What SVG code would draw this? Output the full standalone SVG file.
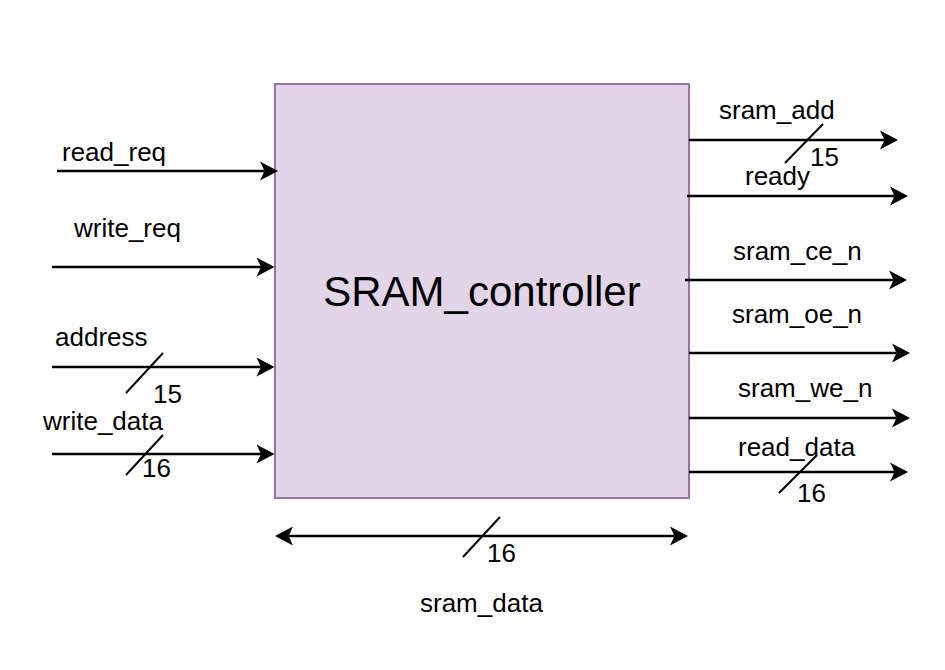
<svg xmlns="http://www.w3.org/2000/svg" width="945" height="670" viewBox="0 0 945 670">
<style>
.lbl{font-family:"Liberation Sans",Arial,sans-serif;font-size:26px;fill:#000}
.big{font-family:"Liberation Sans",Arial,sans-serif;font-size:42px;fill:#000}
.wire{stroke:#000;stroke-width:2.5;fill:none;marker-end:url(#ah)}
.bus{stroke:#000;stroke-width:2;fill:none}
</style>
<defs>
<marker id="ah" markerUnits="userSpaceOnUse" markerWidth="20" markerHeight="22" viewBox="-5 -11 20 22" refX="0" refY="0" orient="auto-start-reverse">
<path d="M13.5,0 L-4.5,-9.5 L0,0 L-4.5,9.5 Z" fill="#000"/>
</marker>
</defs>
<rect width="945" height="670" fill="#fff"/>
<g id="SRAM_controller">
<rect x="275" y="84" width="414" height="414" fill="#e1d5e7" stroke="#9673a6" stroke-width="2"/>
<text class="big" x="482" y="306" text-anchor="middle">SRAM_controller</text>
</g>
<g id="connectors">
<g id="read_req">
<line class="wire" x1="57" y1="171" x2="264.5" y2="171"/>
<text class="lbl" x="62" y="161">read_req</text>
</g>
<g id="write_req">
<line class="wire" x1="52" y1="267" x2="261" y2="267"/>
<text class="lbl" x="74" y="237">write_req</text>
</g>
<g id="address">
<line class="wire" x1="52" y1="367" x2="261" y2="367"/>
<line class="bus" x1="126" y1="393" x2="163" y2="353"/>
<text class="lbl" x="55" y="346">address</text>
<text class="lbl" x="153" y="403">15</text>
</g>
<g id="write_data">
<line class="wire" x1="52" y1="454" x2="261" y2="454"/>
<line class="bus" x1="126" y1="475" x2="163" y2="435"/>
<text class="lbl" x="43" y="430">write_data</text>
<text class="lbl" x="142" y="477">16</text>
</g>
<g id="sram_add">
<line class="wire" x1="689" y1="140" x2="884.5" y2="140"/>
<line class="bus" x1="785" y1="163" x2="823" y2="124"/>
<text class="lbl" x="719" y="119">sram_add</text>
<text class="lbl" x="810" y="166">15</text>
</g>
<g id="ready">
<line class="wire" x1="687" y1="196" x2="894.5" y2="196"/>
<text class="lbl" x="745" y="185">ready</text>
</g>
<g id="sram_ce_n">
<line class="wire" x1="685" y1="280" x2="893.5" y2="280"/>
<text class="lbl" x="733" y="260">sram_ce_n</text>
</g>
<g id="sram_oe_n">
<line class="wire" x1="689" y1="353" x2="896.5" y2="353"/>
<text class="lbl" x="732" y="323">sram_oe_n</text>
</g>
<g id="sram_we_n">
<line class="wire" x1="689" y1="418" x2="896.5" y2="418"/>
<text class="lbl" x="738" y="397">sram_we_n</text>
</g>
<g id="read_data">
<line class="wire" x1="689" y1="472" x2="894.5" y2="472"/>
<line class="bus" x1="779" y1="493" x2="817" y2="455"/>
<text class="lbl" x="738" y="456">read_data</text>
<text class="lbl" x="797" y="502">16</text>
</g>
<g id="sram_data">
<line class="wire" style="marker-start:url(#ah)" x1="288.5" y1="536" x2="674.5" y2="536"/>
<line class="bus" x1="463" y1="557" x2="500" y2="517"/>
<text class="lbl" x="487" y="562">16</text>
<text class="lbl" x="420" y="612">sram_data</text>
</g>
</g>
</svg>
